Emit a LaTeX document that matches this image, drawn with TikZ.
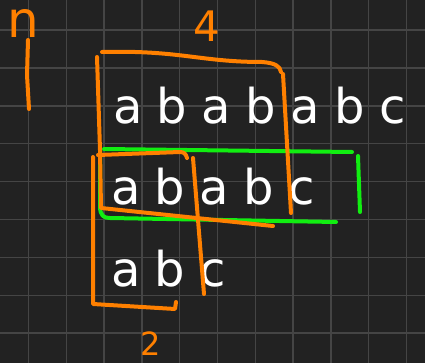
\documentclass[tikz,border=0pt]{standalone}
\usepackage{fontspec}
\newfontfamily\handfont[LetterSpace=30]{DejaVu Sans}
\newfontfamily\labelfont{DejaVu Sans}
\definecolor{bg}{HTML}{222222}
\definecolor{gridc}{HTML}{454545}
\definecolor{pen}{HTML}{FF8000}
\definecolor{hl}{HTML}{11EE11}
\begin{document}
\begin{tikzpicture}[x=1pt,y=-1pt,
  orangestroke/.style={draw=pen,line width=4pt,line cap=round,line join=round},
  greenstroke/.style={draw=hl,line width=4pt,line cap=round,line join=round},
  rowtext/.style={text=white,inner sep=0pt,anchor=base west,font=\handfont\fontsize{48}{52}\selectfont},
  lbl/.style={text=pen,inner sep=0pt,anchor=base}]
\fill[bg] (0,0) rectangle (425,363);
\useasboundingbox (0,0) rectangle (425,363);
\foreach \i in {0,...,10} \draw[gridc,line width=1.5pt] ({28.5+37.8*\i},0) -- ({28.5+37.8*\i},363);
\foreach \j in {0,...,8} \draw[gridc,line width=1.5pt] (0,{30+37.9*\j}) -- (425,{30+37.9*\j});
% rows of text
\node[rowtext] (row1) at (113,124) {abababc};
\node[rowtext] (row2) at (111,205) {ababc};
\node[rowtext] (row3) at (111,286) {abc};
% labels
\node[lbl,font=\labelfont\fontsize{50}{54}\selectfont] (lbln) at (23,38) {n};
\node[lbl,font=\labelfont\fontsize{42}{46}\selectfont] (lbl4) at (207,42) {4};
\node[lbl,font=\labelfont\fontsize{32}{36}\selectfont] (lbl2) at (151,355) {2};
\draw[orangestroke] (28,40) -- (27,75) -- (29,109);
% green box
\draw[greenstroke] (104,149) -- (352,152);
\draw[greenstroke] (358,156) -- (360,212);
\draw[greenstroke] (100,148) -- (100,206) .. controls (100,216) and (104,218) .. (110,218) -- (336,222);
% orange box of 4
\draw[orangestroke] (102,52) .. controls (180,50) and (200,62) .. (262,62) .. controls (275,63) and (280,66) .. (281,72);
\draw[orangestroke] (283,74) -- (291,213);
\draw[orangestroke] (97,57) -- (100,150) -- (101,208) -- (273,226);
% orange box of 2
\draw[orangestroke] (93,157) -- (93,304) -- (175,309) -- (176,302);
\draw[orangestroke] (98,155) -- (180,152) .. controls (184,152) and (186,154) .. (187,158);
\draw[orangestroke] (193,158) -- (204,294);
\end{tikzpicture}
\end{document}
